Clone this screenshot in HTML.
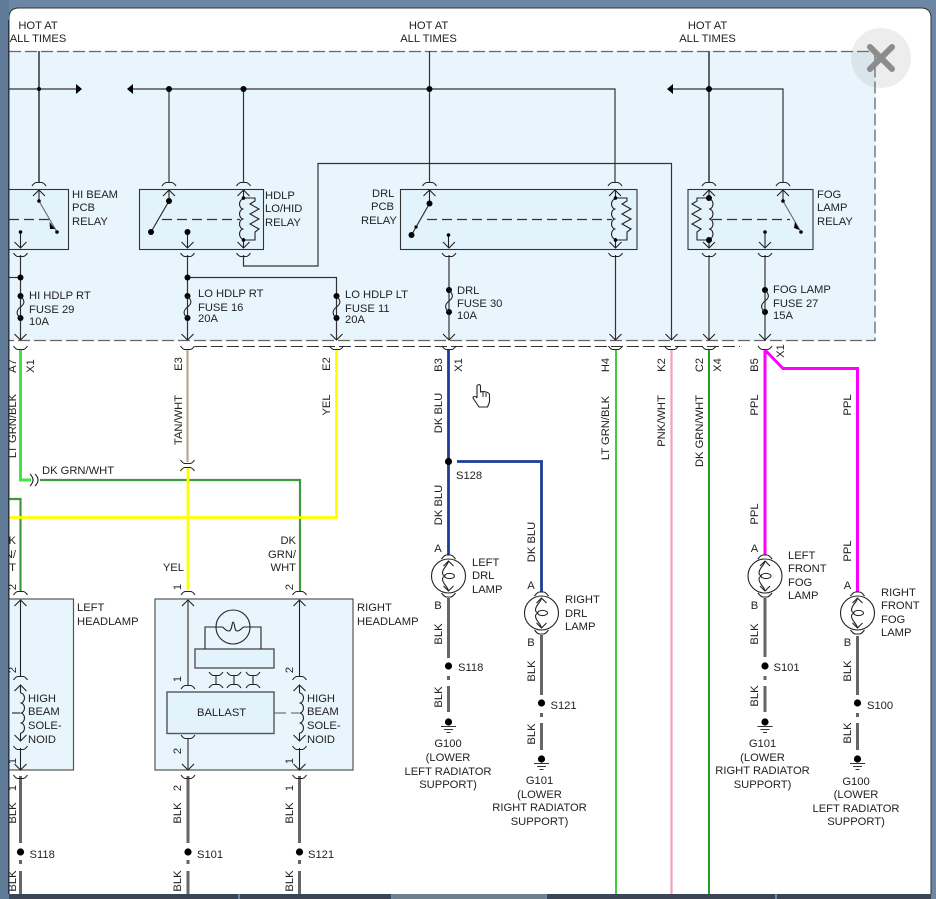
<!DOCTYPE html>
<html><head><meta charset="utf-8"><style>
html,body{margin:0;padding:0;background:#6c87a3;width:936px;height:899px;overflow:hidden}
svg{display:block}
text{font-family:"Liberation Sans",sans-serif;font-size:11.2px;fill:#222}
.m{text-anchor:middle}
.w{fill:none;stroke:#333;stroke-width:1.2}
.b{fill:none;stroke:#444;stroke-width:1.5}
.t{fill:none;stroke:#222;stroke-width:1.1}
.d{fill:none;stroke:#333;stroke-width:1.2;stroke-dasharray:10 5}
.k{fill:#000}
</style></head><body>
<svg width="936" height="899" viewBox="0 0 936 899" xmlns="http://www.w3.org/2000/svg">
<defs>
<path id="ca" class="t" d="M-7,3 Q-5,0 -3,-.5 H3 Q5,0 7,3"/>
<path id="ua" class="t" d="M-7,-3 Q-5,0 -3,.5 H3 Q5,0 7,-3"/>
<path id="cu" class="t" d="M-6,6 L0,0 L6,6"/>
<path id="cd" class="t" d="M-6,-6 L0,0 L6,-6"/>
<path id="fuse" class="t" d="M0,0 c5,5 4,8 0,11 c-5,4 -4,8 0,11"/>
<path id="coilR" class="t" d="M0,0 a4,5 0 0 1 0,10 a4,5 0 0 1 0,10 a4,5 0 0 1 0,10 a4,5 0 0 1 0,10"/>
<path id="coilL" class="t" d="M0,0 a4,5 0 0 0 0,10 a4,5 0 0 0 0,10 a4,5 0 0 0 0,10 a4,5 0 0 0 0,10"/>
<g id="lamp"><circle r="17" fill="none" stroke="#222" stroke-width="1.1"/><path class="t" d="M0,-15 c-1,5 -6,7 -6,12 c0,2 2,3 3,3 M-3,0 c-1,0 -3,1 -3,3 c0,5 5,7 6,12"/><ellipse cx="1" cy="0" rx="5" ry="2.6" fill="none" stroke="#222"/><path class="t" d="M-5,-10 L0,-15 L5,-10 M-5,10 L0,15 L5,10"/><path class="t" d="M-7,-17 Q-4,-21 -2,-21 H2 Q4,-21 7,-17 M-7,17 Q-4,21 -2,21 H2 Q4,21 7,17"/></g>
<g id="gnd"><circle r="3.6" class="k"/><path d="M-7.5,4.5 H7.5 M-4.5,7.5 H4.5 M-2,10.5 H2" stroke="#333" stroke-width="1.1" fill="none"/></g>
</defs>
<rect x="0" y="0" width="936" height="899" fill="#fff"/>
<rect x="9" y="51" width="866" height="289" fill="#e8f5fd"/>
<path d="M9,51.5 H875 V340.5 H9" fill="none" stroke="#666" stroke-width="1.3" stroke-dasharray="12 4"/>
<path d="M195,346.5 H740" fill="none" stroke="#333" stroke-width="1" stroke-dasharray="12 4"/>

<!-- relay boxes -->
<g fill="#e3f3fc" stroke="#333" stroke-width="1.1">
<rect x="5" y="189.5" width="63.5" height="60"/>
<rect x="139.5" y="189.5" width="124" height="60"/>
<rect x="400.5" y="189.5" width="236.5" height="60"/>
<rect x="688" y="189.5" width="125" height="60"/>
</g>

<!-- top wires -->
<g class="w">
<path d="M39,51 V183" stroke-width="1.5"/>
<path d="M9,89 H78"/>
<path d="M131,89 H615 V183"/>
<path d="M169,89 V183 M243.5,89 V183"/>
<path d="M429.5,51 V183"/>
<path d="M709,51 V183" stroke-width="1.5"/>
<path d="M671,89 H783 V183"/>
<path d="M671.5,340 V163.5 H318 V266 H243.5 V255"/>
<path d="M20.5,255 V340"/>
<path d="M9,277.5 H20"/>
<path d="M187.5,255 V340 M187.5,277.5 H336.5 V340"/>
<path d="M449,255 V340"/>
<path d="M615.5,255 V340"/>
<path d="M709,255 V340"/>
<path d="M765,255 V340"/>
</g>
<path class="k" d="M76,84 L82,89 L76,94Z M133,84 L127,89 L133,94Z M673,84 L667,89 L673,94Z"/>
<g class="k">
<circle cx="39" cy="89" r="2"/><circle cx="169" cy="89" r="3"/><circle cx="243.5" cy="89" r="3"/><circle cx="429.5" cy="89" r="3"/><circle cx="709" cy="89" r="3"/>
<circle cx="20.5" cy="277.5" r="3"/><circle cx="187.5" cy="277.5" r="3"/>
<circle cx="20.5" cy="296" r="3"/><circle cx="20.5" cy="318" r="3"/>
<circle cx="187.5" cy="296" r="3"/><circle cx="187.5" cy="318" r="3"/>
<circle cx="336.5" cy="296" r="3"/><circle cx="336.5" cy="318" r="3"/>
<circle cx="449" cy="290" r="3"/><circle cx="449" cy="312" r="3"/>
<circle cx="765" cy="290" r="3"/><circle cx="765" cy="312" r="3"/>
</g>
<use href="#fuse" x="20.5" y="296"/><use href="#fuse" x="187.5" y="296"/><use href="#fuse" x="336.5" y="296"/><use href="#fuse" x="449" y="290"/><use href="#fuse" x="765" y="290"/>

<!-- connectors upper -->
<use href="#ca" x="39" y="183"/><use href="#ca" x="169" y="183"/><use href="#ca" x="243.5" y="183"/><use href="#ca" x="429.5" y="183"/><use href="#ca" x="615" y="183"/><use href="#ca" x="709" y="183"/><use href="#ca" x="783" y="183"/>
<use href="#cu" x="39" y="190"/><use href="#cu" x="169" y="190"/><use href="#cu" x="243.5" y="190"/><use href="#cu" x="429.5" y="190"/><use href="#cu" x="615" y="190"/><use href="#cu" x="709" y="190"/><use href="#cu" x="783" y="190"/>
<use href="#cd" x="20.5" y="248"/><use href="#cd" x="187.5" y="248"/><use href="#cd" x="243.5" y="248"/><use href="#cd" x="449" y="248"/><use href="#cd" x="615.5" y="248"/><use href="#cd" x="709" y="248"/><use href="#cd" x="765" y="248"/>
<use href="#ua" x="20.5" y="256"/><use href="#ua" x="187.5" y="256"/><use href="#ua" x="243.5" y="256"/><use href="#ua" x="449" y="256"/><use href="#ua" x="615.5" y="256"/><use href="#ua" x="709" y="256"/><use href="#ua" x="765" y="256"/>
<use href="#cd" x="20.5" y="340"/><use href="#cd" x="187.5" y="340"/><use href="#cd" x="336.5" y="340"/><use href="#cd" x="449" y="340"/><use href="#cd" x="615.5" y="340"/><use href="#cd" x="671.5" y="340"/><use href="#cd" x="709" y="340"/><use href="#cd" x="765" y="340"/>
<use href="#ua" x="20.5" y="349"/><use href="#ua" x="187.5" y="349"/><use href="#ua" x="336.5" y="349"/><use href="#ua" x="449" y="349"/><use href="#ua" x="615.5" y="349"/><use href="#ua" x="671.5" y="349"/><use href="#ua" x="709" y="349"/><use href="#ua" x="765" y="349"/>

<!-- relay internals -->
<g class="t">
<path d="M39,190 V201 M20.5,232 V248"/>
<path d="M39,201 L57,232 M783,201 L801,232" stroke="#666"/>
<path d="M169,190 V201 L151,232 M187.5,232 V248"/>
<path d="M429.5,190 V203.5 L411.5,235 M448.5,235 V248"/>
<path d="M783,190 V201 M765,232 V248"/>
<path d="M243.5,190 V198 M243.5,238 V248 M615.5,190 V198 M615.5,238 V248 M709,190 V198 M709,238 V248"/>
<path d="M243.5,198 H255 V201 L250,204 L259,209 L250,214 L259,219 L250,224 L259,229 L255,232 V240 H243.5"/>
<path d="M615.5,198 H627 V201 L622,204 L631,209 L622,214 L631,219 L622,224 L631,229 L627,232 V240 H615.5"/>
<path d="M709,198 H697 V201 L692,204 L701,209 L692,214 L701,219 L692,224 L701,229 L697,232 V240 H709"/>
</g>
<use href="#coilL" x="243.5" y="199"/><use href="#coilL" x="615.5" y="199"/><use href="#coilR" x="709" y="199"/>
<path class="d" d="M9,219.5 H50 M162,219.5 H240 M427,219.5 H612 M712,219.5 H790"/>
<g class="k">
<circle cx="39" cy="201" r="1.8"/><circle cx="57" cy="232" r="1.8"/><circle cx="20.5" cy="232" r="1.8"/>
<path d="M49.5,222 L55,229 L50,229Z"/>
<circle cx="169" cy="201" r="3"/><circle cx="151" cy="232" r="3"/><circle cx="187.5" cy="232" r="3"/>
<circle cx="243.5" cy="198" r="1.8"/><circle cx="243.5" cy="240" r="1.8"/>
<circle cx="429.5" cy="203.5" r="3"/><circle cx="411.5" cy="235" r="3"/><circle cx="448.5" cy="235" r="1.8"/>
<circle cx="416" cy="227" r="1.6"/>
<circle cx="615.5" cy="198" r="1.8"/><circle cx="615.5" cy="240" r="1.8"/>
<circle cx="709" cy="198" r="3"/><circle cx="709" cy="240" r="3"/>
<circle cx="783" cy="201" r="1.8"/><circle cx="801" cy="232" r="1.8"/><circle cx="765" cy="232" r="1.8"/>
<path d="M795,222 L799.5,230 L794,228Z"/>
</g>

<!-- coloured wires -->
<g fill="none">
<path d="M20.5,350 V480 H31" stroke="#3fe83f" stroke-width="3"/>
<path d="M40,480 H300 V592" stroke="#3f9a3f" stroke-width="2.2"/>
<path d="M9,499 H20.5 V592" stroke="#3f9a3f" stroke-width="2.2"/>
<path d="M187.5,350 V462" stroke="#b3a98c" stroke-width="2.2"/>
<path d="M336.5,350 V517.5 H9" stroke="#ffff00" stroke-width="2.8"/>
<path d="M188,468 V590" stroke="#ffff00" stroke-width="2.8"/>
<path d="M448.5,350 V555" stroke="#1f3d98" stroke-width="2.8"/>
<path d="M457,461.5 H541.5 V592" stroke="#1f3d98" stroke-width="2.8"/>
<path d="M616,350 V894" stroke="#3fcc3f" stroke-width="2"/>
<path d="M671.5,350 V894" stroke="#f0a5b5" stroke-width="2.2"/>
<path d="M709,350 V894" stroke="#0a960a" stroke-width="1.8"/>
<path d="M765,350 V555" stroke="#ff00ff" stroke-width="3"/>
<path d="M765,350 L783,368.5 H857.5 V592" stroke="#ff00ff" stroke-width="3"/>
<g stroke="#666" stroke-width="3">
<path d="M448.5,598 V658 M541.5,635 V695 M765,598 V657 M857.5,636 V695"/>
<path d="M448.5,676 V680 M448.5,686 V712 M541.5,713 V717 M541.5,723 V750 M765,676 V680 M765,686 V712 M857.5,713 V717 M857.5,723 V750"/>
<path d="M20.5,776 V843 M188,776 V843 M299.5,776 V843"/>
<path d="M20.5,860 V864 M20.5,871 V894 M188,860 V864 M188,871 V894 M299.5,860 V864 M299.5,871 V894"/>
</g>
</g>
<path class="t" stroke="#555" stroke-width="1.5" d="M30,474 Q36,480 30,486 M35,474 Q41,480 35,486" />
<use href="#ua" x="187.5" y="463"/><use href="#ca" x="187.5" y="468"/>

<!-- nodes -->
<g class="k">
<circle cx="448.5" cy="461.5" r="3.6"/>
<circle cx="448.5" cy="666" r="3.6"/><circle cx="541.5" cy="703" r="3.6"/>
<circle cx="765" cy="666" r="3.6"/><circle cx="857.5" cy="703" r="3.6"/>
<circle cx="20.5" cy="852" r="3.6"/><circle cx="188" cy="852" r="3.6"/><circle cx="299.5" cy="852" r="3.6"/>
</g>
<use href="#gnd" x="448.5" y="722"/><use href="#gnd" x="541.5" y="759"/><use href="#gnd" x="765" y="722"/><use href="#gnd" x="857.5" y="759"/>
<use href="#lamp" x="448.5" y="576"/><use href="#lamp" x="541.5" y="613"/><use href="#lamp" x="765" y="576"/><use href="#lamp" x="857.5" y="613"/>

<!-- headlamps -->
<g fill="#e8f5fd" stroke="#555" stroke-width="1.2">
<rect x="5" y="599" width="68.5" height="171"/>
<rect x="155" y="599" width="198" height="171"/>
</g>
<g fill="#e3f3fc" stroke="#555" stroke-width="1.4">
<rect x="195" y="649" width="79" height="19"/>
<rect x="167" y="692" width="107" height="41.5"/>
</g>
<circle cx="233" cy="627" r="17" fill="none" stroke="#222" stroke-width="1.1"/>
<path class="t" stroke="#444" d="M205,649 V627 H222 c2,0 3,4 7,4 c3,0 3,-9 4,-9 c2,0 1,9 4,9 c4,0 5,-4 7,-4 H261 V649"/>
<g class="t">
<path d="M20.5,600 V677 M20.5,748 V770 M299.5,600 V677 M299.5,748 V770"/>
<path d="M12,713 H20"/>
<path d="M274,713 H286 M291,713 H299" stroke="#555"/>
<path d="M216,675 V685 M234,675 V685 M253,675 V685"/>
</g>
<path d="M188,600 V686 M188,738 V770" fill="none" stroke="#777" stroke-width="1.8"/>
<use href="#coilR" x="20.5" y="693"/><use href="#coilR" x="299.5" y="693"/>
<path class="t" d="M20.5,685 V693 M20.5,733 V740 M299.5,685 V693 M299.5,733 V740"/>
<use href="#ca" x="20.5" y="592"/><use href="#ca" x="188" y="592"/><use href="#ca" x="299.5" y="592"/>
<use href="#cu" x="20.5" y="600"/><use href="#cu" x="188" y="600"/><use href="#cu" x="299.5" y="600"/>
<use href="#ca" x="20.5" y="677"/><use href="#ca" x="299.5" y="677"/><use href="#cu" x="20.5" y="685"/><use href="#cu" x="299.5" y="685"/>
<use href="#cd" x="20.5" y="741"/><use href="#cd" x="299.5" y="741"/><use href="#ua" x="20.5" y="749"/><use href="#ua" x="299.5" y="749"/>
<use href="#ca" x="188" y="686"/><use href="#ua" x="188" y="738"/>
<use href="#cd" x="20.5" y="770"/><use href="#cd" x="188" y="770"/><use href="#cd" x="299.5" y="770"/>
<use href="#ua" x="20.5" y="778"/><use href="#ua" x="188" y="778"/><use href="#ua" x="299.5" y="778"/>
<use href="#ua" x="216" y="675"/><use href="#ca" x="216" y="685"/><use href="#ua" x="234" y="675"/><use href="#ca" x="234" y="685"/><use href="#ua" x="253" y="675"/><use href="#ca" x="253" y="685"/>

<!-- horizontal labels -->
<text class="m" x="38" y="29">HOT AT</text><text class="m" x="38" y="42">ALL TIMES</text>
<text class="m" x="428.5" y="29">HOT AT</text><text class="m" x="428.5" y="42">ALL TIMES</text>
<text class="m" x="707.5" y="29">HOT AT</text><text class="m" x="707.5" y="42">ALL TIMES</text>
<text x="72" y="198">HI BEAM</text><text x="72" y="211">PCB</text><text x="72" y="225">RELAY</text>
<text x="265" y="199">HDLP</text><text x="265" y="212">LO/HID</text><text x="265" y="226">RELAY</text>
<text x="372" y="197">DRL</text><text x="371" y="210">PCB</text><text x="361" y="224">RELAY</text>
<text x="817" y="198">FOG</text><text x="817" y="211">LAMP</text><text x="817" y="225">RELAY</text>
<text x="29" y="299">HI HDLP RT</text><text x="29" y="313">FUSE 29</text><text x="29" y="325">10A</text>
<text x="198" y="297">LO HDLP RT</text><text x="198" y="311">FUSE 16</text><text x="198" y="322">20A</text>
<text x="345" y="298">LO HDLP LT</text><text x="345" y="312">FUSE 11</text><text x="345" y="323">20A</text>
<text x="457" y="294">DRL</text><text x="457" y="307">FUSE 30</text><text x="457" y="319">10A</text>
<text x="773" y="293">FOG LAMP</text><text x="773" y="307">FUSE 27</text><text x="773" y="319">15A</text>
<text x="42" y="474">DK GRN/WHT</text>
<text text-anchor="end" x="296" y="544">DK</text><text text-anchor="end" x="296" y="558">GRN/</text><text text-anchor="end" x="296" y="571">WHT</text>
<text text-anchor="end" x="16" y="544">DK</text><text text-anchor="end" x="16" y="558">GRN/</text><text text-anchor="end" x="16" y="571">WHT</text>
<text text-anchor="end" x="184" y="571">YEL</text>
<text x="77" y="611">LEFT</text><text x="77" y="625">HEADLAMP</text>
<text x="357" y="611">RIGHT</text><text x="357" y="625">HEADLAMP</text>
<text x="28" y="702">HIGH</text><text x="28" y="715">BEAM</text><text x="28" y="729">SOLE-</text><text x="28" y="743">NOID</text>
<text x="307" y="702">HIGH</text><text x="307" y="715">BEAM</text><text x="307" y="729">SOLE-</text><text x="307" y="743">NOID</text>
<text x="197" y="716">BALLAST</text>
<text x="29.5" y="858">S118</text><text x="197" y="858">S101</text><text x="308" y="858">S121</text>
<text x="456" y="479">S128</text>
<text x="472" y="566">LEFT</text><text x="472" y="579">DRL</text><text x="472" y="593">LAMP</text>
<text x="565" y="603">RIGHT</text><text x="565" y="617">DRL</text><text x="565" y="630">LAMP</text>
<text class="m" x="438" y="552">A</text><text class="m" x="438" y="609">B</text>
<text class="m" x="531" y="589">A</text><text class="m" x="531" y="646">B</text>
<text x="458" y="671">S118</text><text x="550.5" y="709">S121</text>
<text class="m" x="448" y="747">G100</text><text class="m" x="448" y="761">(LOWER</text><text class="m" x="448" y="775">LEFT RADIATOR</text><text class="m" x="448" y="788">SUPPORT)</text>
<text class="m" x="539.5" y="784">G101</text><text class="m" x="539.5" y="798">(LOWER</text><text class="m" x="539.5" y="811">RIGHT RADIATOR</text><text class="m" x="539.5" y="825">SUPPORT)</text>
<text x="788" y="559">LEFT</text><text x="788" y="572">FRONT</text><text x="788" y="586">FOG</text><text x="788" y="599">LAMP</text>
<text x="881" y="596">RIGHT</text><text x="881" y="609">FRONT</text><text x="881" y="623">FOG</text><text x="881" y="636">LAMP</text>
<text class="m" x="754.5" y="552">A</text><text class="m" x="754.5" y="609">B</text>
<text class="m" x="847.5" y="589">A</text><text class="m" x="847.5" y="646">B</text>
<text x="773.5" y="671">S101</text><text x="867" y="709">S100</text>
<text class="m" x="762.5" y="747">G101</text><text class="m" x="762.5" y="761">(LOWER</text><text class="m" x="762.5" y="774">RIGHT RADIATOR</text><text class="m" x="762.5" y="788">SUPPORT)</text>
<text class="m" x="856" y="785">G100</text><text class="m" x="856" y="798">(LOWER</text><text class="m" x="856" y="812">LEFT RADIATOR</text><text class="m" x="856" y="825">SUPPORT)</text>

<!-- vertical labels -->
<g class="m" text-anchor="middle">
<text transform="translate(16,366) rotate(-90)">A7</text>
<text transform="translate(34,366) rotate(-90)">X1</text>
<text transform="translate(16,426) rotate(-90)">LT GRN/BLK</text>
<text transform="translate(182,364) rotate(-90)">E3</text>
<text transform="translate(182,420) rotate(-90)">TAN/WHT</text>
<text transform="translate(330,364) rotate(-90)">E2</text>
<text transform="translate(330,405) rotate(-90)">YEL</text>
<text transform="translate(442,365) rotate(-90)">B3</text>
<text transform="translate(462,365) rotate(-90)">X1</text>
<text transform="translate(442,413) rotate(-90)">DK BLU</text>
<text transform="translate(442,505) rotate(-90)">DK BLU</text>
<text transform="translate(535,542) rotate(-90)">DK BLU</text>
<text transform="translate(442,634) rotate(-90)">BLK</text>
<text transform="translate(442,697) rotate(-90)">BLK</text>
<text transform="translate(535,671) rotate(-90)">BLK</text>
<text transform="translate(535,734) rotate(-90)">BLK</text>
<text transform="translate(609,365) rotate(-90)">H4</text>
<text transform="translate(609,428) rotate(-90)">LT GRN/BLK</text>
<text transform="translate(665,365) rotate(-90)">K2</text>
<text transform="translate(665,421) rotate(-90)">PNK/WHT</text>
<text transform="translate(703,365) rotate(-90)">C2</text>
<text transform="translate(721,365) rotate(-90)">X4</text>
<text transform="translate(703,431) rotate(-90)">DK GRN/WHT</text>
<text transform="translate(758,365) rotate(-90)">B5</text>
<text transform="translate(784,351) rotate(-90)">X1</text>
<text transform="translate(758,405) rotate(-90)">PPL</text>
<text transform="translate(851,405) rotate(-90)">PPL</text>
<text transform="translate(758,514) rotate(-90)">PPL</text>
<text transform="translate(851,551) rotate(-90)">PPL</text>
<text transform="translate(758,634) rotate(-90)">BLK</text>
<text transform="translate(758,696) rotate(-90)">BLK</text>
<text transform="translate(851,671) rotate(-90)">BLK</text>
<text transform="translate(851,733) rotate(-90)">BLK</text>
<text transform="translate(181,587) rotate(-90)">1</text>
<text transform="translate(293,587) rotate(-90)">2</text>
<text transform="translate(16,587) rotate(-90)">2</text>
<text transform="translate(181,679) rotate(-90)">1</text>
<text transform="translate(293,670) rotate(-90)">2</text>
<text transform="translate(16,670) rotate(-90)">2</text>
<text transform="translate(181,751) rotate(-90)">2</text>
<text transform="translate(293,761) rotate(-90)">1</text>
<text transform="translate(16,761) rotate(-90)">1</text>
<text transform="translate(181,788) rotate(-90)">2</text>
<text transform="translate(293,788) rotate(-90)">1</text>
<text transform="translate(16,788) rotate(-90)">1</text>
<text transform="translate(181,813) rotate(-90)">BLK</text>
<text transform="translate(293,813) rotate(-90)">BLK</text>
<text transform="translate(16,813) rotate(-90)">BLK</text>
<text transform="translate(181,881) rotate(-90)">BLK</text>
<text transform="translate(293,881) rotate(-90)">BLK</text>
<text transform="translate(16,881) rotate(-90)">BLK</text>
</g>

<!-- hand cursor -->
<path d="M477,385.5 c1.5,-1.5 3.5,-1 3.5,1 V392 c3,-1 9,0 9,3 V402 l-2,5 H479 l-6,-9 c0,-2 3,-2 4,0 Z" fill="#fff" stroke="#222" stroke-width="1.1"/>
<path d="M483,392 V397 M486,393 V397" stroke="#222" stroke-width="1" fill="none"/>

<!-- close button -->
<circle cx="881" cy="58" r="30" fill="#888" fill-opacity=".15"/>
<path d="M870,47 L892,69 M892,47 L870,69" stroke="#8c8c8c" stroke-width="6" stroke-linecap="round" fill="none"/>

<!-- frame -->
<path fill-rule="evenodd" fill="#6c87a3" d="M0,0 H936 V899 H0 Z M19,8 H921 Q931,8 931,18 V894 H9 V18 Q9,8 19,8 Z"/>
<path d="M9,894 V18 Q9,8 19,8 H921 Q931,8 931,18 V894" fill="none" stroke="#2b3440" stroke-width="1"/>
<rect x="0" y="0" width="9" height="899" fill="#5f7a96"/>
<rect x="8" y="20" width="1" height="874" fill="#2b3440"/>
<rect x="9" y="894" width="229" height="5" fill="#3a4656"/>
<rect x="240" y="894" width="151" height="5" fill="#3a4656"/>
<rect x="393" y="894" width="152" height="5" fill="#6f7f8c"/>
<rect x="547" y="894" width="228" height="5" fill="#3a4656"/>
<rect x="777" y="894" width="154" height="5" fill="#3a4656"/>
</svg>
</body></html>
